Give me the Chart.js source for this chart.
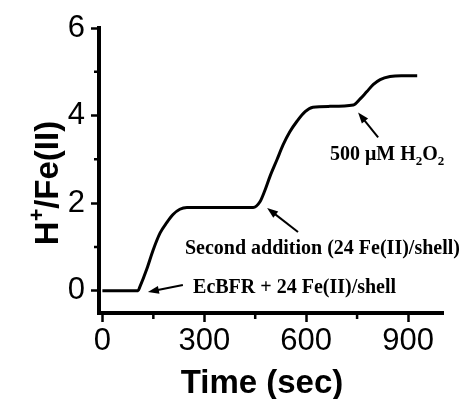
<!DOCTYPE html>
<html>
<head>
<meta charset="utf-8">
<script src="https://cdn.jsdelivr.net/npm/chart.js@4/dist/chart.umd.min.js"></script>
<style>
  html, body { margin: 0; padding: 0; background: #fff; }
  #wrap { width: 469px; height: 399px; }
</style>
</head>
<body>
<div id="wrap"><canvas id="chart"></canvas></div>
<script>
// Time (sec) and proton release per Fe(II)
const times = [0, 50, 105, 110, 131, 149, 170, 190, 208, 228, 249, 300, 350, 400, 444,
  464, 479, 493, 514, 532, 552, 573, 597, 620, 670, 739,
  759, 779, 798, 818, 847, 880, 927];
const ratios = [0, 0, 0, 0.08, 0.5, 0.92, 1.32, 1.56, 1.74, 1.86, 1.9, 1.9, 1.9, 1.9, 1.9,
  2.03, 2.3, 2.6, 2.99, 3.33, 3.63, 3.87, 4.09, 4.19, 4.21, 4.24,
  4.38, 4.55, 4.71, 4.82, 4.89, 4.91, 4.91];

const xTickLabels = [0, 300, 600, 900];
const yTickLabels = [0, 2, 4, 6];

// annotation text, text anchor and arrow (tail -> head), in data units
const notes = [
  { parts: [['EcBFR + 24 Fe(II)/shell']], at: [267, -0.05], from: [237, 0.13], to: [134, -0.03] },
  { parts: [['Second addition (24 Fe(II)/shell)']], at: [243, 0.84], from: [576, 1.34], to: [485, 1.89] },
  { parts: [['500 \u03BCM H'], ['2', 'sub'], ['O'], ['2', 'sub']], at: [670, 2.99], from: [812, 3.5], to: [753, 4.07] },
];

const yTitle = [['H'], ['+', 'sup'], ['/Fe(II)']];
const xTitle = 'Time (sec)';

/**
 * Draw a run of text pieces, some of them raised or lowered
 */
function drawParts(ctx, parts, x, y, size, family, measureOnly) {
  let cx = x;
  parts.forEach(([txt, kind]) => {
    const s = kind ? size * 0.65 : size;
    ctx.font = `bold ${s}px ${family}`;
    let dy = 0;
    if (kind === 'sub') dy = size * 0.25;
    if (kind === 'sup') dy = -size * 0.42;
    if (!measureOnly) ctx.fillText(txt, cx, y + dy);
    cx += ctx.measureText(txt).width;
  });
  return cx - x;
}

function drawArrow(ctx, x1, y1, x2, y2) {
  const a = Math.atan2(y2 - y1, x2 - x1);
  const len = 11, half = 4;
  ctx.beginPath();
  ctx.moveTo(x1, y1);
  ctx.lineTo(x2 - Math.cos(a) * len * 0.8, y2 - Math.sin(a) * len * 0.8);
  ctx.lineWidth = 2;
  ctx.strokeStyle = '#000';
  ctx.stroke();
  ctx.beginPath();
  ctx.moveTo(x2, y2);
  ctx.lineTo(x2 - Math.cos(a) * len + Math.sin(a) * half, y2 - Math.sin(a) * len - Math.cos(a) * half);
  ctx.lineTo(x2 - Math.cos(a) * len - Math.sin(a) * half, y2 - Math.sin(a) * len + Math.cos(a) * half);
  ctx.closePath();
  ctx.fillStyle = '#000';
  ctx.fill();
}

const decorPlugin = {
  id: 'decor',
  afterDraw(chart) {
    const { ctx, chartArea, scales: { x, y } } = chart;
    ctx.save();
    ctx.fillStyle = '#000';
    ctx.strokeStyle = '#000';
    ctx.textBaseline = 'alphabetic';
    ctx.textAlign = 'left';

    // short minor ticks (the ones without a label)
    ctx.lineWidth = 2.5;
    ctx.beginPath();
    x.ticks.filter(t => !xTickLabels.includes(t.value)).forEach(t => {
      const px = x.getPixelForValue(t.value);
      ctx.moveTo(px, chartArea.bottom);
      ctx.lineTo(px, chartArea.bottom + 6);
    });
    y.ticks.filter(t => !yTickLabels.includes(t.value)).forEach(t => {
      const py = y.getPixelForValue(t.value);
      ctx.moveTo(chartArea.left, py);
      ctx.lineTo(chartArea.left - 5, py);
    });
    ctx.stroke();

    // notes with arrows
    notes.forEach(n => {
      drawParts(ctx, n.parts, x.getPixelForValue(n.at[0]), y.getPixelForValue(n.at[1]),
        20, '"Liberation Serif", "Times New Roman", serif');
      drawArrow(ctx, x.getPixelForValue(n.from[0]), y.getPixelForValue(n.from[1]),
        x.getPixelForValue(n.to[0]), y.getPixelForValue(n.to[1]));
    });

    // axis titles
    const sans = '"Liberation Sans", Arial, sans-serif';
    ctx.font = `bold 33px ${sans}`;
    const wx = ctx.measureText(xTitle).width;
    ctx.fillText(xTitle, 262 - wx / 2, 393);

    ctx.translate(58, 183);
    ctx.rotate(-Math.PI / 2);
    const wy = drawParts(ctx, yTitle, 0, 0, 33, sans, true);
    drawParts(ctx, yTitle, -wy / 2, 0, 33, sans);
    ctx.restore();
  }
};

const tickFont = { family: '"Liberation Sans", Arial, sans-serif', size: 31 };
const majorTickColor = (labels) => (c) => labels.includes(c.tick && c.tick.value) ? '#000' : 'rgba(0,0,0,0)';

new Chart(document.getElementById('chart'), {
  type: 'line',
  data: {
    datasets: [{
      data: times.map((t, i) => ({ x: t, y: ratios[i] })),
      borderColor: '#000',
      borderWidth: 3,
      pointRadius: 0,
      cubicInterpolationMode: 'monotone',
      fill: false,
    }],
  },
  options: {
    responsive: true,
    maintainAspectRatio: false,
    animation: false,
    events: [],
    layout: { padding: { top: 28, right: 26, left: 0, bottom: 0 } },
    plugins: { legend: { display: false }, tooltip: { enabled: false } },
    scales: {
      x: {
        type: 'linear',
        min: -10,
        max: 1003,
        afterFit: (s) => { s.height = 86; },
        border: { display: true, color: '#000', width: 4 },
        grid: { drawOnChartArea: false, drawTicks: true, tickLength: 9, tickWidth: 2.5, tickColor: majorTickColor(xTickLabels) },
        ticks: {
          stepSize: 150,
          includeBounds: false,
          maxRotation: 0,
          autoSkip: false,
          padding: 1,
          color: '#000',
          font: tickFont,
          callback: (v) => xTickLabels.includes(v) ? String(v) : '',
        },
      },
      y: {
        min: -0.51,
        max: 6,
        afterFit: (s) => { s.width = 99; },
        border: { display: true, color: '#000', width: 4 },
        grid: { drawOnChartArea: false, drawTicks: true, tickLength: 8, tickWidth: 2.5, tickColor: majorTickColor(yTickLabels) },
        ticks: {
          stepSize: 1,
          includeBounds: false,
          autoSkip: false,
          padding: 6,
          color: '#000',
          font: tickFont,
          callback: (v) => yTickLabels.includes(v) ? String(v) : '',
        },
      },
    },
  },
  plugins: [decorPlugin],
});
</script>
</body>
</html>
